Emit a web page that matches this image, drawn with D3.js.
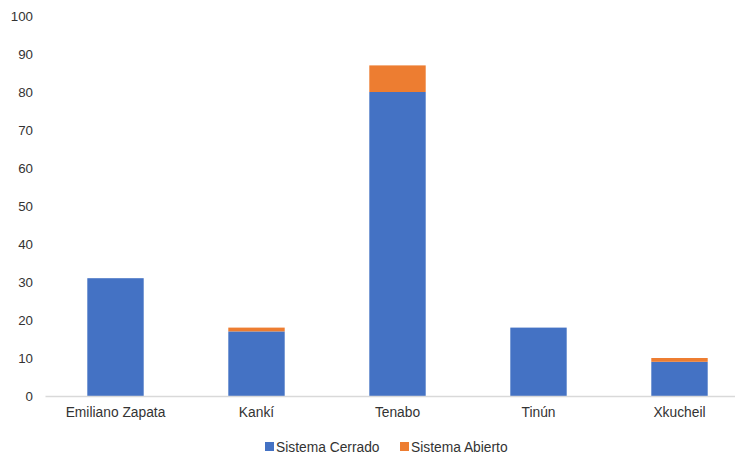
<!DOCTYPE html>
<html><head><meta charset="utf-8">
<script src="https://cdn.jsdelivr.net/npm/d3@7"></script>
<style>body{margin:0;background:#fff;}svg{display:block;font-family:"Liberation Sans",Arial,sans-serif;}</style>
</head><body>
<svg id="chart" width="735" height="458"></svg>
<script>
const categories = ["Emiliano Zapata", "Kankí", "Tenabo", "Tinún", "Xkucheil"];
const cerrado = [31, 17, 80, 18, 9];
const abierto = [0, 1, 7, 0, 1];
const seriesNames = ["Sistema Cerrado", "Sistema Abierto"];
const seriesColors = ["#4472C4", "#ED7D31"];
const yTicks = [0, 10, 20, 30, 40, 50, 60, 70, 80, 90, 100];

const svg = d3.select("#chart");
const x = d3.scaleBand().domain(categories).range([45, 750]).paddingInner(0.6).paddingOuter(0.3);
const y = d3.scaleLinear().domain([0, 100]).range([396, 16]);

const rows = categories.map((c, i) => ({cat: c, "Sistema Cerrado": cerrado[i], "Sistema Abierto": abierto[i]}));
const stack = d3.stack().keys(seriesNames)(rows);

svg.selectAll("g.series").data(stack).join("g").attr("class", "series")
  .attr("fill", (d, i) => seriesColors[i])
  .selectAll("rect").data(d => d).join("rect")
  .attr("x", d => x(d.data.cat))
  .attr("width", x.bandwidth())
  .attr("y", d => y(d[1]))
  .attr("height", d => y(d[0]) - y(d[1]));

// y axis labels
const yAxis = svg.append("g").attr("transform", "translate(33,0)")
  .call(d3.axisLeft(y).tickValues(yTicks).tickSize(0).tickPadding(0));
yAxis.select(".domain").remove();
yAxis.selectAll("text").attr("font-size", 13.3).attr("fill", "#333").attr("font-family", "Liberation Sans, Arial, sans-serif");

// x axis
const xAxis = svg.append("g").attr("transform", "translate(0,396)")
  .call(d3.axisBottom(x).tickSize(0).tickPadding(11));
xAxis.select(".domain").attr("stroke", "#d9d9d9").attr("stroke-width", 1.3);
xAxis.selectAll("text").attr("font-size", 13.8).attr("fill", "#333").attr("font-family", "Liberation Sans, Arial, sans-serif");

// legend
const legendX = [265, 400];
const leg = svg.append("g");
seriesNames.forEach((n, i) => {
  leg.append("rect").attr("x", legendX[i]).attr("y", 442).attr("width", 9).attr("height", 9).attr("fill", seriesColors[i]);
  leg.append("text").attr("x", legendX[i] + 11).attr("y", 451.5).attr("font-size", 13.8).attr("fill", "#333").text(n);
});
</script>
</body></html>
